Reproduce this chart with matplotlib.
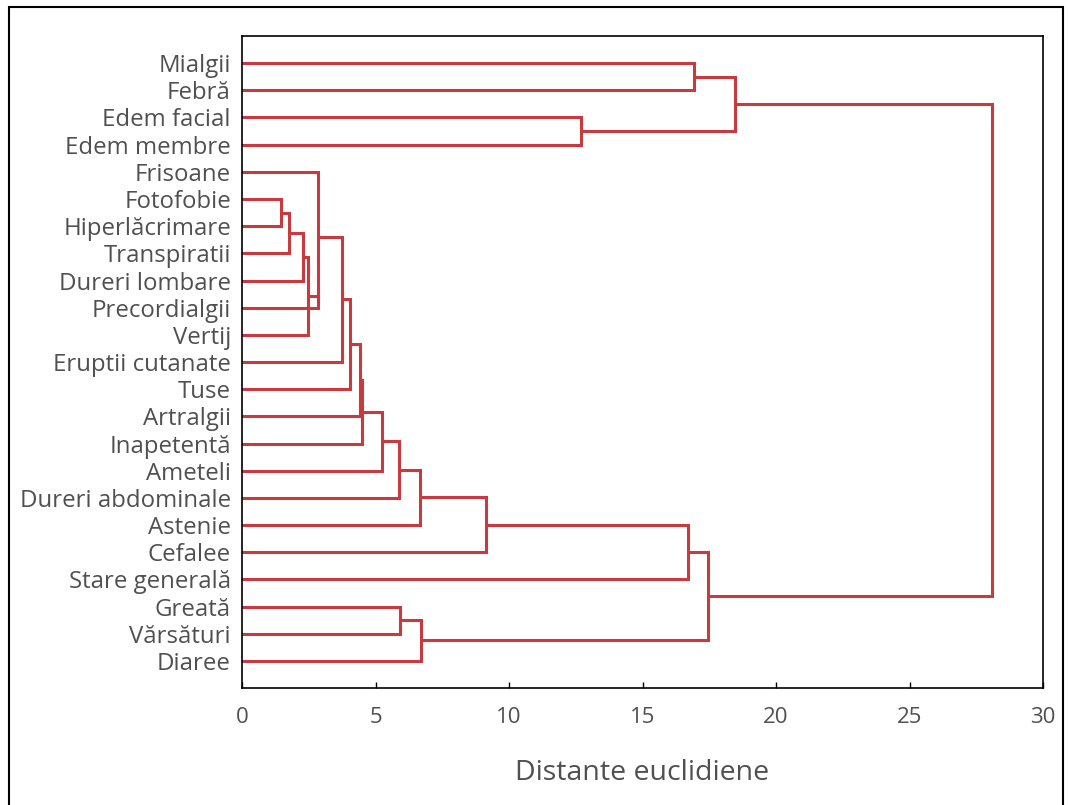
import matplotlib.pyplot as plt
from matplotlib.patches import Rectangle

# simptome, in ordinea frunzelor din arbore (de sus in jos)
simptome = ['Mialgii', 'Febră', 'Edem facial', 'Edem membre', 'Frisoane',
            'Fotofobie', 'Hiperlăcrimare', 'Transpiratii', 'Dureri lombare',
            'Precordialgii', 'Vertij', 'Eruptii cutanate', 'Tuse', 'Artralgii',
            'Inapetentă', 'Ameteli', 'Dureri abdominale', 'Astenie', 'Cefalee',
            'Stare generală', 'Greată', 'Vărsături', 'Diaree']

# pasii de agregare: indicii >= 23 sunt clusterele formate la pasii anteriori
grup_a = [5, 23, 24, 25, 26, 4, 28, 29, 30, 31, 32, 33, 34, 35, 36,
          20, 38, 0, 2, 40, 37, 42]
grup_b = [6, 7, 8, 10, 9, 27, 11, 12, 13, 14, 15, 16, 17, 18, 19,
          21, 22, 1, 3, 41, 39, 43]
distante = [1.45, 1.76, 2.27, 2.48, 2.84, 2.84, 3.76, 4.04, 4.42, 4.49, 5.25,
            5.88, 6.67, 9.14, 16.70, 5.92, 6.70, 16.93, 12.70, 18.46, 17.45, 28.09]

culoare = '#c63a40'
gri = '#505050'

plt.rcParams['font.family'] = ['Open Sans', 'DejaVu Sans']

fig = plt.figure(figsize=(10.68, 8.05), dpi=100)
ax = fig.add_axes([0.2266, 0.1453, 0.75, 0.8100])

n = len(simptome)
poz = {i: i + 1 for i in range(n)}
inalt = {i: 0.0 for i in range(n)}
for k, (a, b, d) in enumerate(zip(grup_a, grup_b, distante)):
    ya, yb = poz[a], poz[b]
    ax.plot([inalt[a], d, d, inalt[b]], [ya, ya, yb, yb], color=culoare,
            lw=2.2, solid_joinstyle='miter', solid_capstyle='butt')
    poz[n + k] = (ya + yb) / 2
    inalt[n + k] = d

ax.set_xlim(0, 30)
ax.set_ylim(n + 1, 0)
ax.set_xticks(range(0, 31, 5))
ax.set_yticks(range(1, n + 1))
ax.set_yticklabels(simptome)

ax.tick_params(axis='y', direction='in', length=4, width=1.2, pad=8,
               labelsize=17.3, labelcolor=gri)
ax.tick_params(axis='x', direction='in', length=4, width=1, pad=14,
               labelsize=16, labelcolor=gri)
for s in ax.spines.values():
    s.set_linewidth(1.2)
    s.set_color('black')

ax.set_xlabel('Distante euclidiene', fontsize=20.5, color=gri, labelpad=22)

# chenarul exterior al figurii
fig.patches.append(Rectangle((9 / 1068, -0.05), 1054 / 1068, 1.05 - 7 / 805,
                             transform=fig.transFigure, fill=False,
                             edgecolor='black', linewidth=1.5))

fig.savefig('out.png', dpi=100)
